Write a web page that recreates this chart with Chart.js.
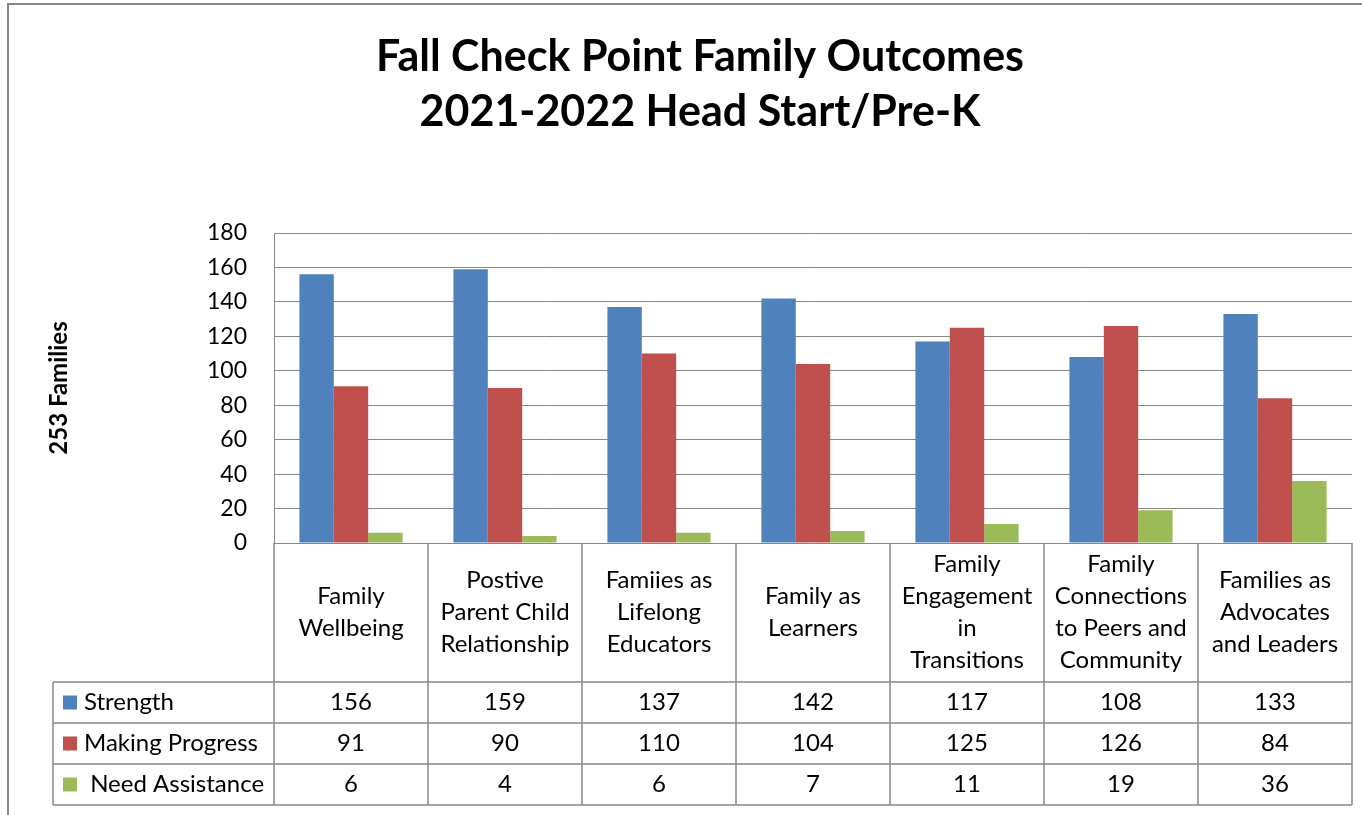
<!DOCTYPE html>
<html>
<head>
<meta charset="utf-8">
<script src="https://cdn.jsdelivr.net/npm/chart.js@4.4.0/dist/chart.umd.min.js"></script>
<style>
html,body{margin:0;padding:0;background:#fff;overflow:hidden}
canvas{display:block}
</style>
</head>
<body>
<canvas id="c" width="1362" height="815"></canvas>
<script>
// ---- data ----
const titleLines = ["Fall Check Point Family Outcomes", "2021-2022 Head Start/Pre-K"];
const yAxisTitle = "253 Families";
const categories = [
  ["Family", "Wellbeing"],
  ["Postive", "Parent Child", "Relationship"],
  ["Famiies as", "Lifelong", "Educators"],
  ["Family as", "Learners"],
  ["Family", "Engagement", "in", "Transitions"],
  ["Family", "Connections", "to Peers and", "Community"],
  ["Families as", "Advocates", "and Leaders"]
];
const seriesNames = ["Strength", "Making Progress", " Need Assistance"];
const strength = [156, 159, 137, 142, 117, 108, 133];
const makingProgress = [91, 90, 110, 104, 125, 126, 84];
const needAssistance = [6, 4, 6, 7, 11, 19, 36];
const yTicks = [0, 20, 40, 60, 80, 100, 120, 140, 160, 180];

// ---- styles ----
const seriesColors = ["#4F81BD", "#C0504D", "#9BBB59"];
const gridColor = "#888888";
const FONT = "Lato, 'Open Sans', 'DejaVu Sans', sans-serif";
const TABLE_FONT_SIZE = 24;

const framePlugin = {
  id: 'frame',
  beforeDraw(chart) {
    const ctx = chart.ctx;
    ctx.save();
    ctx.fillStyle = '#ffffff';
    ctx.fillRect(0, 0, chart.width, chart.height);
    ctx.strokeStyle = '#868686';
    ctx.lineWidth = 2;
    ctx.strokeRect(8, 4, chart.width + 50, chart.height + 50);
    ctx.restore();
  },
  afterLayout(chart) {
    // title in the reference is centred a little right of the canvas centre
    if (chart.titleBlock) {
      chart.titleBlock.left += 24;
      chart.titleBlock.right += 24;
    }
  }
};

const tablePlugin = {
  id: 'dataTable',
  afterDraw(chart) {
    const ctx = chart.ctx;
    const a = chart.chartArea;
    const x = chart.scales.x;
    const n = chart.data.labels.length;
    const half = (x.getPixelForValue(1) - x.getPixelForValue(0)) / 2;
    const edges = [];
    for (let i = 0; i < n; i++) edges.push(x.getPixelForValue(i) - half);
    edges.push(x.getPixelForValue(n - 1) + half);
    const top = a.bottom;
    const headerBottom = top + 139;
    const rowH = 41;
    const legendLeft = 53;
    const rows = chart.data.datasets.length;
    const rowsBottom = headerBottom + rowH * rows;

    ctx.save();
    ctx.strokeStyle = gridColor;
    ctx.lineWidth = 1.5;
    ctx.beginPath();
    edges.forEach(e => { ctx.moveTo(e, top); ctx.lineTo(e, rowsBottom); });
    for (let r = 0; r <= rows; r++) {
      const yy = headerBottom + r * rowH;
      ctx.moveTo(legendLeft, yy); ctx.lineTo(edges[n], yy);
    }
    ctx.moveTo(legendLeft, headerBottom); ctx.lineTo(legendLeft, rowsBottom);
    ctx.stroke();

    ctx.fillStyle = '#000';
    ctx.font = TABLE_FONT_SIZE + 'px ' + FONT;
    ctx.textAlign = 'center';
    ctx.textBaseline = 'middle';
    chart.data.labels.forEach((lines, i) => {
      const cx = x.getPixelForValue(i);
      const cy = (top + headerBottom) / 2;
      const lh = 32;
      lines.forEach((t, k) => ctx.fillText(t, cx, cy + (k - (lines.length - 1) / 2) * lh));
    });

    chart.data.datasets.forEach((ds, r) => {
      const cy = headerBottom + rowH * r + rowH / 2;
      ctx.fillStyle = ds.backgroundColor;
      ctx.fillRect(63, cy - 7, 14, 14);
      ctx.fillStyle = '#000';
      ctx.textAlign = 'left';
      ctx.fillText(ds.label, 84, cy);
      ctx.textAlign = 'center';
      ds.data.forEach((v, i) => ctx.fillText(String(v), x.getPixelForValue(i), cy));
    });
    ctx.restore();
  }
};

new Chart(document.getElementById('c'), {
  type: 'bar',
  data: {
    labels: categories,
    datasets: [
      { label: seriesNames[0], data: strength, backgroundColor: seriesColors[0] },
      { label: seriesNames[1], data: makingProgress, backgroundColor: seriesColors[1] },
      { label: seriesNames[2], data: needAssistance, backgroundColor: seriesColors[2] }
    ]
  },
  options: {
    responsive: false,
    animation: false,
    devicePixelRatio: 1,
    layout: { padding: { left: 0, right: 10, top: 0, bottom: 272 } },
    datasets: { bar: { categoryPercentage: 0.67, barPercentage: 1.0, borderWidth: 0 } },
    plugins: {
      legend: { display: false },
      tooltip: { enabled: false },
      title: {
        display: true,
        text: titleLines,
        color: '#000',
        font: { family: FONT, size: 43, weight: 'bold', lineHeight: 55 / 43 },
        padding: { top: 30, bottom: 93 }
      }
    },
    scales: {
      x: {
        display: false,
        offset: true,
        grid: { display: false }
      },
      y: {
        min: 0,
        max: 180,
        afterBuildTicks: s => { s.ticks = yTicks.map(v => ({ value: v })); },
        afterFit: s => { s.width = 274; },
        ticks: { padding: 27, color: '#000', font: { family: FONT, size: 23 } },
        grid: { color: gridColor, lineWidth: 1, drawTicks: false },
        border: { display: true, color: gridColor, width: 1 },
        title: {
          display: true,
          text: yAxisTitle,
          color: '#000',
          font: { family: FONT, size: 24, weight: 'bold' },
          padding: { top: 45, bottom: 0 }
        }
      }
    }
  },
  plugins: [framePlugin, tablePlugin]
});
</script>
</body>
</html>
